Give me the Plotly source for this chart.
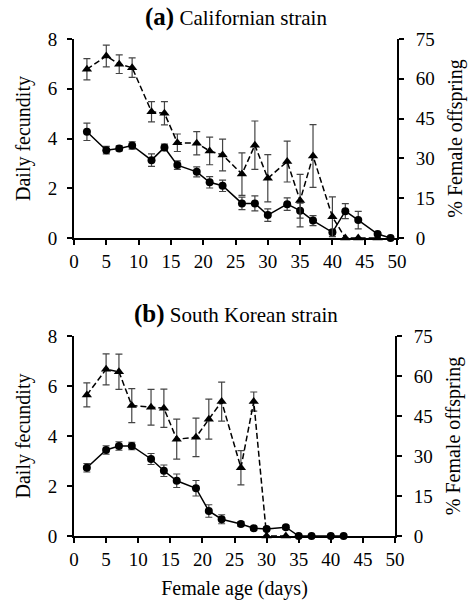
import plotly.graph_objects as go

# Panel (a) Californian strain
a_fec_age = [2, 5, 7, 9, 12, 14, 16, 19, 21, 23, 26, 28, 30, 33, 35, 37, 40, 42, 44, 47, 49]
a_fec = [4.27, 3.53, 3.6, 3.72, 3.13, 3.64, 2.93, 2.66, 2.24, 2.1, 1.39, 1.39, 0.92, 1.36, 1.1, 0.7, 0.23, 1.08, 0.72, 0.16, 0.0]
a_fec_err = [0.35, 0.15, 0.1, 0.15, 0.25, 0.13, 0.17, 0.2, 0.23, 0.23, 0.25, 0.3, 0.25, 0.25, 0.3, 0.2, 0.1, 0.3, 0.35, 0.05, 0.0]
a_fem_age = [2, 5, 7, 9, 12, 14, 16, 19, 21, 23, 26, 28, 30, 33, 35, 37, 40, 42, 44, 47]
a_fem = [63.6, 68.6, 65.5, 64.2, 47.6, 47.0, 35.9, 35.7, 32.8, 31.3, 24.1, 35.0, 22.5, 28.8, 14.1, 30.9, 8.0, 0, 0, 0]
a_fem_err = [4, 4.1, 3.5, 3.7, 3.8, 4.4, 3.3, 4.4, 5.2, 6, 8, 9.1, 8.9, 7.7, 9.9, 11.8, 7.5, 0, 0, 0]

# Panel (b) South Korean strain
b_fec_age = [2, 5, 7, 9, 12, 14, 16, 19, 21, 23, 26, 28, 30, 33, 35, 37, 40, 42]
b_fec = [2.73, 3.44, 3.6, 3.6, 3.08, 2.61, 2.21, 1.91, 1.0, 0.67, 0.48, 0.31, 0.28, 0.35, 0, 0, 0, 0]
b_fec_err = [0.17, 0.17, 0.17, 0.15, 0.22, 0.23, 0.27, 0.31, 0.25, 0.18, 0.1, 0.08, 0.07, 0.08, 0, 0, 0, 0]
b_fem_age = [2, 5, 7, 9, 12, 14, 16, 19, 21, 23, 26, 28, 30, 33]
b_fem = [52.9, 62.5, 61.6, 48.9, 48.3, 47.9, 36.3, 37.0, 43.8, 50.4, 25.6, 50.4, 0, 0]
b_fem_err = [4.5, 5.8, 6.6, 6.4, 6.7, 7.2, 7.5, 7.2, 7.5, 7.3, 6.4, 3.6, 0, 0]

x_ticks = list(range(0, 51, 5))
left_ticks = [0, 2, 4, 6, 8]
right_ticks = [0, 15, 30, 45, 60, 75]

FONT = "Liberation Serif"
W, H = 472, 605

fig = go.Figure()

def add_panel(xa, ya_left, ya_right, fa, fv, fe, ma, mv, me):
    fig.add_trace(go.Scatter(
        x=ma, y=mv, xaxis=xa, yaxis=ya_right, mode="lines+markers",
        line=dict(color="black", width=1.5, dash="6px,3px"),
        marker=dict(symbol="triangle-up", size=9, color="black"),
        error_y=dict(type="data", array=me, color="#444", thickness=1.2, width=3.5),
        cliponaxis=False, showlegend=False))
    fig.add_trace(go.Scatter(
        x=fa, y=fv, xaxis=xa, yaxis=ya_left, mode="lines+markers",
        line=dict(color="black", width=1.5),
        marker=dict(symbol="circle", size=8, color="black"),
        error_y=dict(type="data", array=fe, color="#444", thickness=1.2, width=3.5),
        cliponaxis=False, showlegend=False))

add_panel("x", "y", "y2", a_fec_age, a_fec, a_fec_err, a_fem_age, a_fem, a_fem_err)
add_panel("x2", "y3", "y4", b_fec_age, b_fec, b_fec_err, b_fem_age, b_fem, b_fem_err)

def px_y(p):
    return 1 - p / H

xdom_a = [74 / W, 397 / W]
xdom_b = [74 / W, 395 / W]
dom_a = [px_y(238), px_y(39)]
dom_b = [px_y(536), px_y(336)]

tickfont = dict(family=FONT, size=19, color="black")
titlefont = dict(family=FONT, size=20, color="black")

common = dict(showline=True, linecolor="black", linewidth=2, ticks="outside", ticklen=5,
              tickwidth=1.5, tickcolor="black", showgrid=False, zeroline=False,
              tickfont=tickfont, automargin=False)
xcommon = dict(range=[0, 50], tickvals=x_ticks, **common)
lcommon = dict(range=[0, 8], tickvals=left_ticks, side="left", ticklabelstandoff=6, **common)
rcommon = dict(range=[0, 75], tickvals=right_ticks, side="right", ticklabelstandoff=8, **common)

fig.update_layout(
    width=W, height=H, margin=dict(l=0, r=0, t=0, b=0),
    paper_bgcolor="white", plot_bgcolor="white",
    font=dict(family=FONT, color="black"),
    xaxis=dict(**xcommon, domain=xdom_a, anchor="y"),
    yaxis=dict(**lcommon, domain=dom_a, anchor="x",
               title=dict(text="Daily fecundity", font=titlefont, standoff=12)),
    yaxis2=dict(**rcommon, domain=dom_a, anchor="x", overlaying="y",
                title=dict(text="% Female offspring", font=titlefont, standoff=14)),
    xaxis2=dict(**xcommon, domain=xdom_b, anchor="y3",
                title=dict(text="Female age (days)", font=titlefont, standoff=12)),
    yaxis3=dict(**lcommon, domain=dom_b, anchor="x2",
                title=dict(text="Daily fecundity", font=titlefont, standoff=12)),
    yaxis4=dict(**rcommon, domain=dom_b, anchor="x2", overlaying="y3",
                title=dict(text="% Female offspring", font=titlefont, standoff=14)),
)

xc = (xdom_a[0] + xdom_a[1]) / 2
fig.add_annotation(x=xc, y=px_y(17), xref="paper", yref="paper", showarrow=False,
                   text="<span style='font-size:25px'><b>(a)</b></span> Californian strain",
                   font=dict(family=FONT, size=21, color="black"),
                   xanchor="center", yanchor="middle")
fig.add_annotation(x=xc, y=px_y(314), xref="paper", yref="paper", showarrow=False,
                   text="<span style='font-size:25px'><b>(b)</b></span> South Korean strain",
                   font=dict(family=FONT, size=21, color="black"),
                   xanchor="center", yanchor="middle")

fig.write_html("out.html")
